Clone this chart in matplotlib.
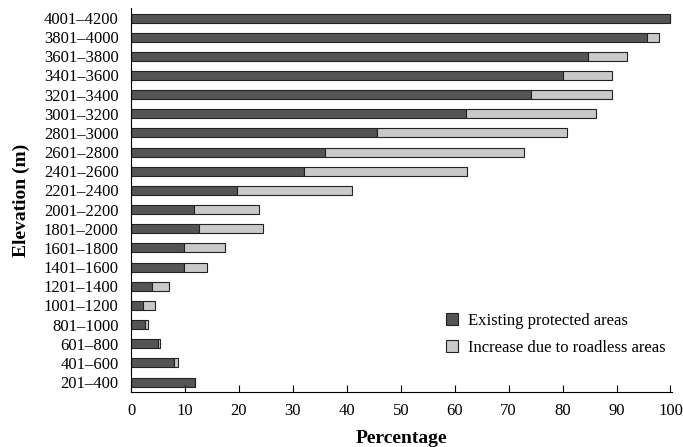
import matplotlib.pyplot as plt
import numpy as np

plt.rcParams['font.family'] = ['Liberation Serif', 'DejaVu Serif']

# elevation bands, bottom to top
bands = ["201\u2013400", "401\u2013600", "601\u2013800", "801\u20131000", "1001\u20131200",
         "1201\u20131400", "1401\u20131600", "1601\u20131800", "1801\u20132000", "2001\u20132200",
         "2201\u20132400", "2401\u20132600", "2601\u20132800", "2801\u20133000", "3001\u20133200",
         "3201\u20133400", "3401\u20133600", "3601\u20133800", "3801\u20134000", "4001\u20134200"]
existing = [11.9, 7.9, 5.0, 2.5, 2.2, 3.9, 9.8, 9.8, 12.6, 11.6,
            19.7, 32.1, 36.0, 45.5, 62.1, 74.1, 80.0, 84.7, 95.7, 100.0]
total = [11.9, 8.7, 5.3, 3.2, 4.4, 7.1, 14.1, 17.4, 24.4, 23.7,
         41.0, 62.2, 72.8, 80.8, 86.2, 89.2, 89.2, 92.0, 97.8, 100.0]
increase = [t - e for t, e in zip(total, existing)]

fig = plt.figure(figsize=(6.83, 4.47), dpi=100)
ax = fig.add_axes([0.192, 0.123, 0.792, 0.859])

y = np.arange(len(bands))
ax.barh(y, existing, height=0.47, color='#555555', edgecolor='#222222', linewidth=0.8,
        label='Existing protected areas')
ax.barh(y, increase, left=existing, height=0.47, color='#c9c9c9', edgecolor='#222222',
        linewidth=0.8, label='Increase due to roadless areas')

ax.set_xlim(0, 100.3)
ax.set_ylim(-0.52, len(bands) - 0.48)
ax.set_xticks(range(0, 101, 10))
ax.set_yticks(y)
ax.set_yticklabels(bands)
ax.tick_params(axis='x', direction='in', length=5, labelsize=12, pad=8)
ax.tick_params(axis='y', length=0, labelsize=12, pad=9)
for s in ['top', 'right']:
    ax.spines[s].set_visible(False)

ax.set_xlabel('Percentage', fontsize=14, fontweight='bold', labelpad=8)
ax.set_ylabel('Elevation (m)', fontsize=14, fontweight='bold', labelpad=10)

ax.legend(loc='lower right', bbox_to_anchor=(1.015, 0.055), frameon=False, fontsize=12,
          handlelength=0.7, handleheight=0.7, handletextpad=0.6, labelspacing=0.65)

fig.savefig('out.png', dpi=100)
